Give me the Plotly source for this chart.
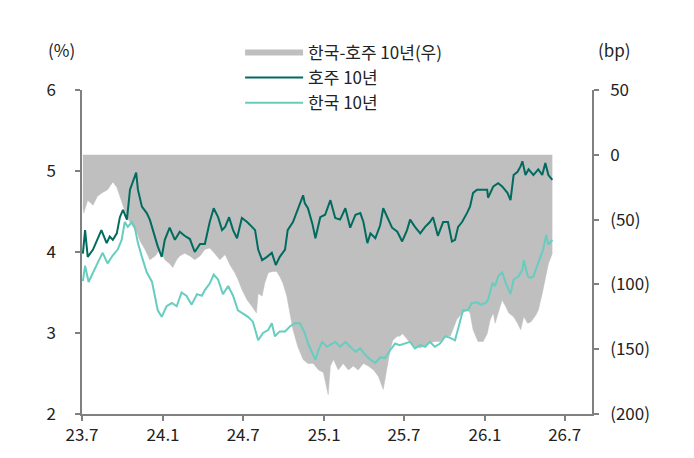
import plotly.graph_objects as go

# ---- data ----
au_dates = ["2023-07-03","2023-07-08","2023-07-14","2023-07-26","2023-08-14","2023-08-26","2023-09-02","2023-09-09",
            "2023-09-18","2023-09-25","2023-10-02","2023-10-11","2023-10-18","2023-10-24","2023-11-01","2023-11-05",
            "2023-11-14","2023-11-25","2023-12-02","2023-12-09","2023-12-20","2023-12-29","2024-01-05","2024-01-16",
            "2024-01-28","2024-02-08","2024-02-19","2024-03-02","2024-03-13","2024-03-25","2024-04-05","2024-04-16",
            "2024-04-25","2024-05-05","2024-05-14","2024-05-21","2024-05-30","2024-06-08","2024-06-17","2024-06-28",
            "2024-07-10","2024-07-21","2024-07-28","2024-08-04","2024-08-13","2024-08-24","2024-09-04","2024-09-13",
            "2024-09-22","2024-10-04","2024-10-10","2024-10-22","2024-11-02","2024-11-14","2024-11-18","2024-11-25",
            "2024-12-05","2024-12-12","2024-12-23","2025-01-03","2025-01-15","2025-01-22","2025-01-26","2025-02-06",
            "2025-02-18","2025-03-01","2025-03-13","2025-03-24","2025-03-31","2025-04-09","2025-04-16","2025-04-27",
            "2025-05-08","2025-05-15","2025-05-24","2025-06-04","2025-06-16","2025-06-27","2025-07-08","2025-07-15",
            "2025-07-26","2025-08-07","2025-08-18","2025-08-29","2025-09-05","2025-09-16","2025-09-28","2025-10-09",
            "2025-10-18","2025-10-25","2025-11-01","2025-11-10","2025-11-21","2025-11-28","2025-12-05","2025-12-14",
            "2025-12-26","2026-01-06","2026-01-08","2026-01-20","2026-01-31","2026-02-09","2026-02-21","2026-02-28",
            "2026-03-07","2026-03-16","2026-03-23","2026-03-27","2026-04-03","2026-04-10","2026-04-21","2026-05-02",
            "2026-05-11","2026-05-18","2026-05-25","2026-06-03"]
au_10y = [3.98,4.27,3.94,4.03,4.27,4.11,4.19,4.15,
          4.23,4.43,4.52,4.40,4.77,4.85,4.98,4.77,
          4.56,4.48,4.40,4.27,4.07,3.94,4.15,4.30,
          4.15,4.25,4.20,4.16,4.00,4.10,4.10,4.37,
          4.54,4.43,4.27,4.31,4.43,4.27,4.17,4.42,
          4.37,4.31,4.27,4.03,3.90,3.94,3.99,3.84,
          3.94,4.03,4.27,4.37,4.52,4.70,4.60,4.54,
          4.35,4.17,4.43,4.46,4.64,4.48,4.42,4.40,
          4.54,4.30,4.46,4.48,4.37,4.11,4.23,4.17,
          4.33,4.54,4.43,4.30,4.25,4.13,4.27,4.40,
          4.31,4.23,4.31,4.37,4.43,4.20,4.37,4.37,
          4.13,4.15,4.31,4.37,4.48,4.56,4.73,4.77,
          4.77,4.77,4.67,4.81,4.85,4.81,4.73,4.64,
          4.95,4.99,5.06,5.12,4.95,5.02,4.95,5.02,
          4.95,5.10,4.95,4.89]

kr_dates = ["2023-07-03","2023-07-08","2023-07-16","2023-07-26","2023-08-05","2023-08-17","2023-08-28","2023-09-09",
            "2023-09-20","2023-09-29","2023-10-06","2023-10-13","2023-10-22","2023-10-29","2023-11-05","2023-11-14",
            "2023-11-25","2023-12-07","2023-12-14","2023-12-20","2023-12-29","2024-01-09","2024-01-21","2024-02-01",
            "2024-02-12","2024-02-23","2024-03-06","2024-03-18","2024-03-29","2024-04-05","2024-04-16","2024-04-25",
            "2024-05-05","2024-05-16","2024-05-28","2024-06-08","2024-06-19","2024-07-01","2024-07-12","2024-07-23",
            "2024-08-04","2024-08-15","2024-08-27","2024-09-04","2024-09-11","2024-09-22","2024-10-04","2024-10-15",
            "2024-10-26","2024-11-07","2024-11-18","2024-11-25","2024-12-05","2024-12-12","2024-12-19","2024-12-27",
            "2025-01-07","2025-01-19","2025-01-26","2025-02-06","2025-02-18","2025-03-01","2025-03-13","2025-03-24",
            "2025-04-04","2025-04-16","2025-04-27","2025-05-08","2025-05-19","2025-05-31","2025-06-11","2025-06-21",
            "2025-07-04","2025-07-15","2025-07-26","2025-08-07","2025-08-18","2025-08-29","2025-09-09","2025-09-21",
            "2025-10-03","2025-10-14","2025-10-25","2025-11-06","2025-11-12","2025-11-23","2025-12-02","2025-12-14",
            "2025-12-22","2026-01-02","2026-01-08","2026-01-18","2026-01-24","2026-01-31","2026-02-09","2026-02-17",
            "2026-02-28","2026-03-07","2026-03-18","2026-03-27","2026-03-30","2026-04-08","2026-04-15","2026-04-21",
            "2026-04-30","2026-05-07","2026-05-13","2026-05-20","2026-05-25","2026-06-03"]
kr_10y = [3.64,3.83,3.63,3.75,3.86,3.99,3.86,3.96,
          4.03,4.15,4.37,4.31,4.37,4.30,4.11,3.94,
          3.75,3.63,3.46,3.28,3.20,3.33,3.37,3.33,
          3.50,3.46,3.35,3.48,3.46,3.53,3.61,3.72,
          3.66,3.48,3.58,3.46,3.28,3.24,3.20,3.14,
          2.91,3.00,3.04,3.12,2.96,3.02,3.02,3.08,
          3.12,3.12,3.00,2.87,2.75,2.67,2.79,2.89,
          2.83,2.87,2.89,2.83,2.89,2.83,2.77,2.81,
          2.73,2.67,2.63,2.70,2.69,2.79,2.87,2.85,
          2.87,2.89,2.81,2.85,2.83,2.89,2.83,2.87,
          2.96,2.94,2.91,3.16,3.28,3.28,3.37,3.38,
          3.35,3.37,3.41,3.62,3.58,3.70,3.75,3.62,
          3.48,3.66,3.70,3.78,3.90,3.70,3.68,3.70,
          3.84,3.94,4.03,4.21,4.09,4.15]

sp_dates = ["2023-07-03","2023-07-05","2023-07-14","2023-07-26","2023-08-05","2023-08-17","2023-08-28","2023-09-09",
            "2023-09-18","2023-09-25","2023-10-02","2023-10-11","2023-10-18","2023-10-24","2023-11-03","2023-11-09",
            "2023-11-21","2023-12-02","2023-12-14","2023-12-25","2024-01-05","2024-01-16","2024-01-23","2024-02-01",
            "2024-02-08","2024-02-19","2024-03-02","2024-03-13","2024-03-25","2024-04-05","2024-04-16","2024-04-27",
            "2024-05-09","2024-05-21","2024-06-01","2024-06-12","2024-06-19","2024-06-28","2024-07-10","2024-07-21",
            "2024-07-31","2024-08-04","2024-08-13","2024-08-19","2024-08-27","2024-09-06","2024-09-15","2024-09-22",
            "2024-09-29","2024-10-08","2024-10-15","2024-10-22","2024-11-02","2024-11-14","2024-11-25","2024-12-07",
            "2024-12-19","2024-12-30","2025-01-10","2025-01-15","2025-01-22","2025-02-02","2025-02-13","2025-02-25",
            "2025-03-08","2025-03-19","2025-03-31","2025-04-11","2025-04-23","2025-05-04","2025-05-15","2025-05-24",
            "2025-05-31","2025-06-06","2025-06-16","2025-06-21","2025-06-28","2025-07-15","2025-07-26","2025-08-07",
            "2025-08-18","2025-08-29","2025-09-09","2025-09-21","2025-10-03","2025-10-14","2025-10-20","2025-10-29",
            "2025-11-10","2025-11-23","2025-11-28","2025-12-05","2025-12-16","2025-12-28","2026-01-06","2026-01-13",
            "2026-01-20","2026-01-24","2026-01-31","2026-02-09","2026-02-17","2026-02-24","2026-03-07","2026-03-16",
            "2026-03-23","2026-03-30","2026-04-08","2026-04-15","2026-04-26","2026-05-02","2026-05-11","2026-05-18",
            "2026-05-25","2026-06-03"]
sp_bp = [-40,-45,-35,-39,-32,-29,-27,-21,
         -25,-32,-40,-48,-52,-55,-60,-66,
         -73,-81,-78,-73,-81,-84,-87,-81,
         -78,-76,-78,-81,-78,-73,-72,-76,
         -81,-77,-85,-91,-96,-104,-112,-117,
         -122,-107,-109,-99,-91,-90,-90,-94,
         -99,-109,-122,-135,-148,-158,-161,-161,
         -166,-168,-185,-163,-158,-166,-161,-166,
         -163,-166,-161,-163,-166,-171,-181,-163,
         -150,-143,-140,-140,-138,-145,-148,-149,
         -147,-145,-144,-144,-140,-140,-135,-127,
         -122,-120,-122,-135,-144,-144,-138,-127,
         -122,-130,-122,-112,-117,-122,-125,-130,
         -135,-125,-130,-129,-124,-120,-107,-94,
         -84,-76]

x_tickvals = ["2023-07-01","2024-01-01","2024-07-01","2025-01-01","2025-07-01","2026-01-01","2026-07-01"]
x_ticktext = ["23.7","24.1","24.7","25.1","25.7","26.1","26.7"]
l_tickvals = [2, 3, 4, 5, 6]
r_tickvals = [-200, -150, -100, -50, 0, 50]
r_ticktext = ["(200)", "(150)", "(100)", "(50)", "0", "50"]

name_sp = "한국-호주 10년(우)"
name_au = "호주 10년"
name_kr = "한국 10년"

GRAY = "#BFBFBF"
DARK = "#006B5E"
LIGHT = "#66CDBF"
AXIS = "#808080"
FONT = "Noto Sans CJK KR"

fig = go.Figure()
# spread area (primary y = bp, right side) drawn first so lines sit on top
fig.add_trace(go.Scatter(x=sp_dates, y=sp_bp, yaxis="y", mode="lines", fill="tozeroy",
                         fillcolor=GRAY, line=dict(color=GRAY, width=0.5), showlegend=False,
                         hoverinfo="skip"))
# legend proxy for the spread
fig.add_trace(go.Scatter(x=[None], y=[None], yaxis="y", mode="lines", name=name_sp,
                         line=dict(color=GRAY, width=6)))
fig.add_trace(go.Scatter(x=au_dates, y=au_10y, yaxis="y2", mode="lines", name=name_au,
                         line=dict(color=DARK, width=2)))
fig.add_trace(go.Scatter(x=kr_dates, y=kr_10y, yaxis="y2", mode="lines", name=name_kr,
                         line=dict(color=LIGHT, width=2)))

fig.update_layout(
    width=694, height=458,
    margin=dict(l=74, r=110, t=82, b=52),
    paper_bgcolor="white", plot_bgcolor="white",
    font=dict(family=FONT, size=17, color="#222222"),
    showlegend=True,
    legend=dict(x=0.31, y=1.17, xanchor="left", yanchor="top", orientation="v",
                font=dict(size=17), bgcolor="rgba(0,0,0,0)", itemwidth=58,
                tracegroupgap=0, traceorder="normal"),
    xaxis=dict(type="date", range=["2023-07-01", "2026-09-01"],
               tickvals=x_tickvals, ticktext=x_ticktext,
               showline=True, linecolor=AXIS, linewidth=1.5,
               ticks="outside", ticklen=5, tickcolor=AXIS, tickwidth=1.5,
               showgrid=False, zeroline=False),
    yaxis=dict(side="right", range=[-200, 50], tickvals=r_tickvals, ticktext=r_ticktext,
               showline=True, linecolor=AXIS, linewidth=1.5,
               ticks="outside", ticklen=5, tickcolor=AXIS, tickwidth=1.5,
               ticklabelstandoff=8,
               showgrid=False, zeroline=False),
    yaxis2=dict(overlaying="y", side="left", range=[2, 6], tickvals=l_tickvals,
                showline=True, linecolor=AXIS, linewidth=1.5,
                ticks="outside", ticklen=5, tickcolor=AXIS, tickwidth=1.5,
                ticklabelstandoff=16,
                showgrid=False, zeroline=False),
    annotations=[
        dict(text="(%)", xref="paper", yref="paper", x=-0.04, y=1.125, xanchor="center",
             yanchor="middle", showarrow=False, font=dict(size=17)),
        dict(text="(bp)", xref="paper", yref="paper", x=1.045, y=1.125, xanchor="center",
             yanchor="middle", showarrow=False, font=dict(size=17)),
    ],
)

fig.write_html("out.html")
